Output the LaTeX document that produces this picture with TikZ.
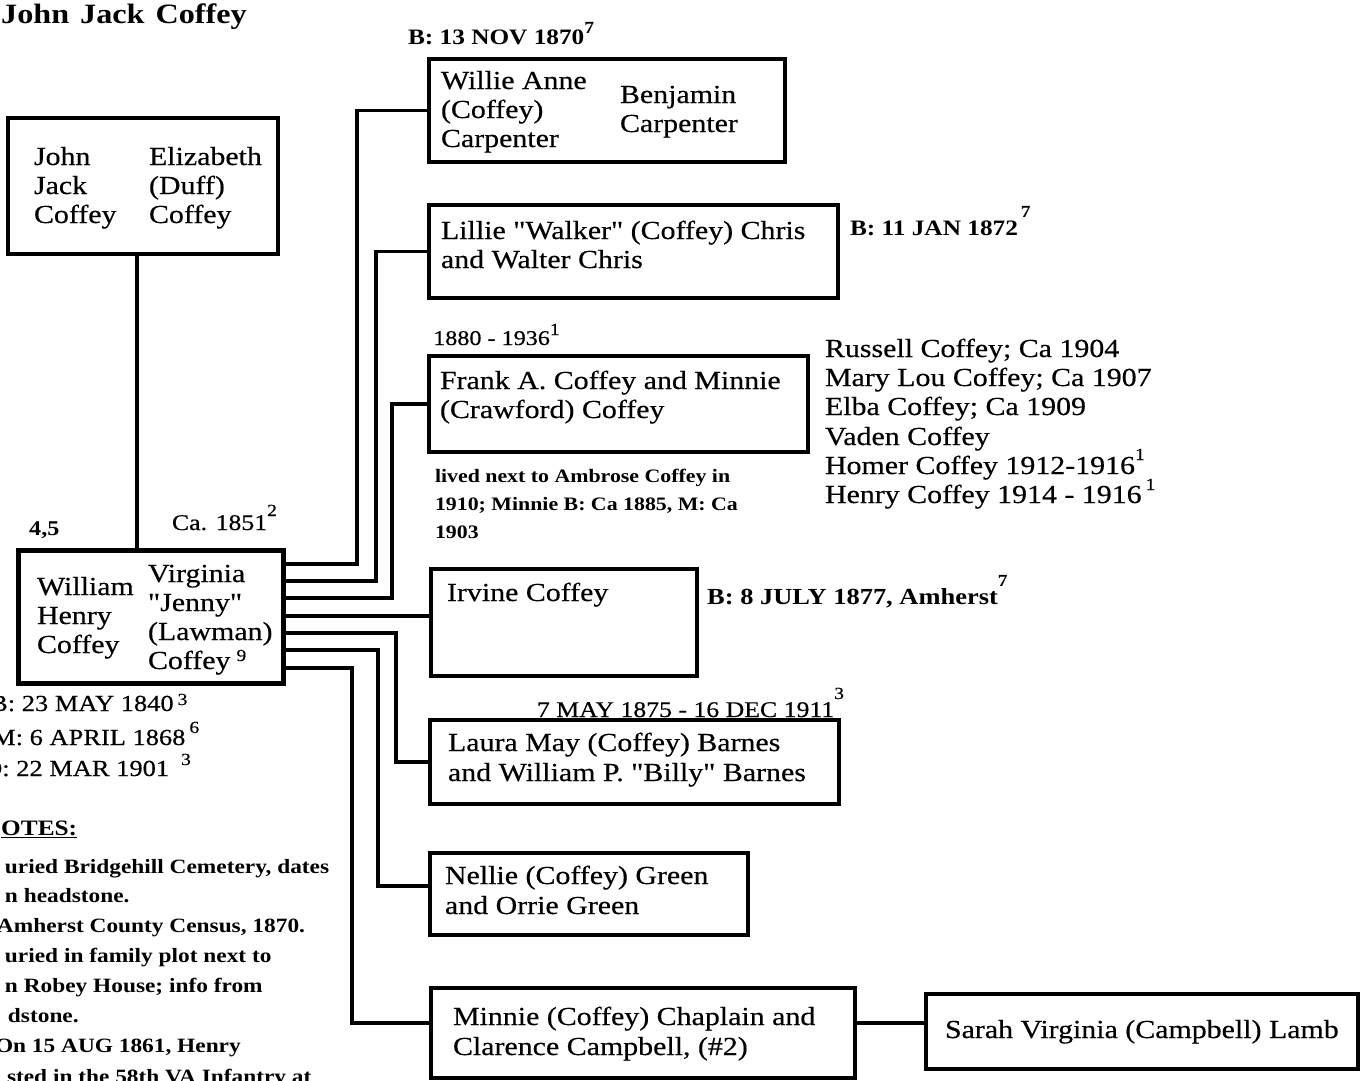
\documentclass[tikz,border=0pt]{standalone}
\usepackage{fontspec}
\setmainfont{Liberation Serif}[FakeStretch=1.15, Ligatures=TeXOff, UprightFeatures={FakeBold=0.4}]
\newcommand{\supnum}[2][10pt]{\raisebox{#1}{\fontsize{17}{17}\selectfont #2}}
\begin{document}
\begin{tikzpicture}[x=1pt,y=-1pt,
  box/.style={draw, line width=3.2pt, inner sep=0pt, outer sep=0pt, anchor=north west},
  conn/.style={line width=3.3pt},
  txt/.style={anchor=base west, inner sep=0pt, outer sep=0pt, font=\fontsize{26}{30}\selectfont},
  datebold/.style={anchor=base west, inner sep=0pt, outer sep=0pt, font=\fontsize{22}{26}\selectfont\bfseries},
  datereg/.style={anchor=base west, inner sep=0pt, outer sep=0pt, font=\fontsize{22.4}{26}\selectfont},
  notetxt/.style={anchor=base west, inner sep=0pt, outer sep=0pt, font=\fontsize{20.3}{24}\selectfont\bfseries},
  livedtxt/.style={anchor=base west, inner sep=0pt, outer sep=0pt, font=\fontsize{19}{24}\selectfont\bfseries}]
\useasboundingbox (0,0) rectangle (1362,1081);

% title
\node[anchor=base west, inner sep=0pt, font=\fontsize{28}{30}\selectfont\bfseries] (title) at (1,24) {John\hspace{11pt}Jack\hspace{11pt}Coffey};

% parents box
\node[box, minimum width=270pt, minimum height=136pt] (jj) at (8,118) {};
\node[txt] (jj1) at (34,165) {John};
\node[txt] (jj2) at (34,194) {Jack};
\node[txt] (jj3) at (34,223) {Coffey};
\node[txt] (jj4) at (149,165) {Elizabeth};
\node[txt] (jj5) at (149,194) {(Duff)};
\node[txt] (jj6) at (149,223) {Coffey};

% William Henry box
\node[box, line width=5pt, minimum width=265pt, minimum height=133pt] (wh) at (18,550) {};
\node[txt] (wh1) at (37,595) {William};
\node[txt] (wh2) at (37,624) {Henry};
\node[txt] (wh3) at (37,653) {Coffey};
\node[txt] (wh4) at (148,582) {Virginia};
\node[txt] (wh5) at (148,611) {"Jenny"};
\node[txt] (wh6) at (148,640) {(Lawman)};
\node[txt] (wh7) at (148,669) {Coffey\hspace{6pt}\supnum[8pt]{9}};

\node[anchor=base west, inner sep=0pt, font=\fontsize{21}{24}\selectfont\bfseries] (l45) at (29,535) {4,5};
\node[datereg] (ca) at (172,530) {Ca. 1851\supnum[14pt]{2}};
\node[anchor=base west, inner sep=0pt, font=\fontsize{23}{26}\selectfont] (bd) at (-10,711) {B: 23 MAY 1840\hspace{4pt}\supnum[6pt]{3}};
\node[anchor=base west, inner sep=0pt, font=\fontsize{23}{26}\selectfont] (md) at (-8,745) {M: 6 APRIL 1868\hspace{4pt}\supnum[12pt]{6}};
\node[anchor=base west, inner sep=0pt, font=\fontsize{23}{26}\selectfont] (dd) at (-17,776) {D: 22 MAR 1901\hspace{12pt}\supnum[11pt]{3}};

% notes
\node[anchor=base west, inner sep=0pt, font=\fontsize{22}{26}\selectfont\bfseries] (notes) at (1,835) {\underline{OTES:}};
\node[notetxt] (n1) at (5,873) {uried Bridgehill Cemetery, dates};
\node[notetxt] (n2) at (5,902) {n headstone.};
\node[notetxt] (n3) at (-3,932) {Amherst County Census, 1870.};
\node[notetxt] (n4) at (5,962) {uried in family plot next to};
\node[notetxt] (n5) at (5,992) {n Robey House; info from};
\node[notetxt] (n6) at (8,1022) {dstone.};
\node[notetxt] (n7) at (-5,1052) {On 15 AUG 1861, Henry};
\node[notetxt] (n8) at (7,1083) {sted in the 58th VA Infantry at};

% children boxes
\node[box, minimum width=356pt, minimum height=103pt] (willie) at (429,59) {};
\node[txt] (wi1) at (441,89) {Willie Anne};
\node[txt] (wi2) at (441,118) {(Coffey)};
\node[txt] (wi3) at (441,147) {Carpenter};
\node[txt] (wi4) at (620,103) {Benjamin};
\node[txt] (wi5) at (620,132) {Carpenter};
\node[datebold] (wid) at (408,45) {B: 13 NOV 1870\supnum[11pt]{7}};

\node[box, minimum width=409pt, minimum height=93pt] (lillie) at (429,205) {};
\node[txt] (li1) at (441,239) {Lillie "Walker" (Coffey) Chris};
\node[txt] (li2) at (441,268) {and Walter Chris};
\node[datebold] (lid) at (850,235) {B: 11 JAN 1872\hspace{3pt}\supnum[18pt]{7}};

\node[box, minimum width=379pt, minimum height=96pt] (frank) at (429,356) {};
\node[txt] (fr1) at (440,389) {Frank A. Coffey and Minnie};
\node[txt] (fr2) at (440,418) {(Crawford) Coffey};
\node[anchor=base west, inner sep=0pt, font=\fontsize{21}{24}\selectfont] (frd) at (433,345) {1880 - 1936\supnum[10pt]{1}};
\node[livedtxt] (fl1) at (435,482) {lived next to Ambrose Coffey in};
\node[livedtxt] (fl2) at (435,510) {1910; Minnie B: Ca 1885, M: Ca};
\node[livedtxt] (fl3) at (435,538) {1903};

\node[txt] (gc1) at (825,357) {Russell Coffey; Ca 1904};
\node[txt] (gc2) at (825,386) {Mary Lou Coffey; Ca 1907};
\node[txt] (gc3) at (825,415) {Elba Coffey; Ca 1909};
\node[txt] (gc4) at (825,445) {Vaden Coffey};
\node[txt] (gc5) at (825,474) {Homer Coffey 1912-1916\supnum[14pt]{1}};
\node[txt] (gc6) at (825,503) {Henry Coffey 1914 - 1916\hspace{4pt}\supnum[13pt]{1}};

\node[box, minimum width=266pt, minimum height=107pt] (irvine) at (431,569) {};
\node[txt] (ir1) at (447,601) {Irvine Coffey};
\node[anchor=base west, inner sep=0pt, font=\fontsize{23}{26}\selectfont\bfseries] (ird) at (707,604) {B: 8 JULY 1877, Amherst\supnum[18pt]{7}};

\node[box, minimum width=409pt, minimum height=84pt] (laura) at (430,720) {};
\node[datereg] (lad) at (537,717) {7 MAY 1875 - 16 DEC 1911\supnum[18pt]{3}};
\node[txt] (la1) at (448,751) {Laura May (Coffey) Barnes};
\node[txt] (la2) at (448,781) {and William P. "Billy" Barnes};

\node[box, minimum width=318pt, minimum height=82pt] (nellie) at (430,853) {};
\node[txt] (ne1) at (445,884) {Nellie (Coffey) Green};
\node[txt] (ne2) at (445,914) {and Orrie Green};

\node[box, minimum width=424pt, minimum height=90pt] (minnie) at (431,988) {};
\node[txt] (mi1) at (453,1025) {Minnie (Coffey) Chaplain and};
\node[txt] (mi2) at (453,1055) {Clarence Campbell, (\#2)};

\node[box, minimum width=432pt, minimum height=75pt] (sarah) at (926,994) {};
\node[txt] (sa1) at (945,1038) {Sarah Virginia (Campbell) Lamb};

% connectors
\coordinate (jv) at ([xshift=-6pt]jj.south);
\draw[conn] (jv) -- (jv |- wh.north);

\coordinate (w1) at ([yshift=-14pt]wh.north east);
\coordinate (w2) at ([yshift=-31pt]wh.north east);
\coordinate (w3) at ([yshift=-48pt]wh.north east);
\coordinate (w4) at ([yshift=-66pt]wh.north east);
\coordinate (w5) at ([yshift=-83pt]wh.north east);
\coordinate (w6) at ([yshift=-100pt]wh.north east);
\coordinate (w7) at ([yshift=-118pt]wh.north east);

\draw[conn] (w1) -| ([xshift=-72pt]willie.west) -- (willie.west);
\draw[conn] (w2) -| ([xshift=-53pt]lillie.west) -- (lillie.west);
\draw[conn] (w3) -| ([xshift=-37pt]frank.west) -- (frank.west);
\draw[conn] (w4) -- (w4 -| irvine.west);
\draw[conn] (w5) -| ([xshift=-34pt]laura.west) -- (laura.west);
\draw[conn] (w6) -| ([xshift=-52pt,yshift=8pt]nellie.west) -- ([yshift=8pt]nellie.west);
\draw[conn] (w7) -| ([xshift=-79pt,yshift=10pt]minnie.west) -- ([yshift=10pt]minnie.west);

\coordinate (ms) at ([yshift=10pt]minnie.east);
\draw[conn] (ms) -- (ms -| sarah.west);
\end{tikzpicture}
\end{document}
